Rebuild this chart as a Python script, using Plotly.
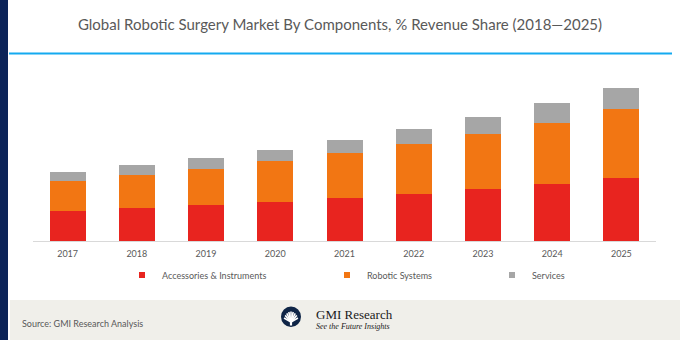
import math
import plotly.graph_objects as go

# ---- data -------------------------------------------------------------
years = ["2017", "2018", "2019", "2020", "2021", "2022", "2023", "2024", "2025"]
accessories = [3.00, 3.30, 3.60, 3.93, 4.30, 4.70, 5.23, 5.70, 6.27]
robotic_systems = [3.03, 3.30, 3.63, 4.04, 4.50, 5.03, 5.50, 6.13, 6.93]
services = [0.87, 1.00, 1.10, 1.13, 1.33, 1.50, 1.70, 1.94, 2.13]

series_names = ["Accessories & Instruments", "Robotic Systems", "Services"]
series_colors = ["#e8241f", "#f27613", "#a6a6a6"]

# ---- geometry -----------------------------------------------------------
W, H = 680, 340
ML, MR, MT, MB = 33, 24, 60, 99
PW, PH = W - ML - MR, H - MT - MB
TEXT = "#595959"
FONT = "Lato"


def px_x(px):
    return (px - ML) / PW


def px_y(py):
    return (H - MB - py) / PH


fig = go.Figure()

# stacked bars (legend shown through small square proxies below)
for name, vals, col in zip(series_names, [accessories, robotic_systems, services], series_colors):
    fig.add_trace(go.Bar(
        x=years, y=vals, name=name, marker=dict(color=col, line=dict(width=0)),
        legendgroup=name, showlegend=False,
    ))

legend_ids = ["legend", "legend2", "legend3"]
legend_text_x = [162, 367, 532]
for name, col, lid in zip(series_names, series_colors, legend_ids):
    fig.add_trace(go.Scatter(
        x=[None], y=[None], mode="markers", name=name, legendgroup=name,
        marker=dict(symbol="square", size=6, color=col), legend=lid,
    ))

legend_layouts = {}
for lid, tx in zip(legend_ids, legend_text_x):
    legend_layouts[lid] = dict(
        x=px_x(tx - 40), xanchor="left", y=px_y(275), yanchor="middle",
        orientation="h", bgcolor="rgba(0,0,0,0)",
        font=dict(family=FONT, size=9, color=TEXT),
        itemclick=False, itemdoubleclick=False,
    )

shapes = [
    # navy strip on the left edge
    dict(type="rect", xref="paper", yref="paper", x0=px_x(0), x1=px_x(8),
         y0=px_y(H), y1=px_y(0), fillcolor="#0c2459", line=dict(width=0), layer="below"),
    # footer band
    dict(type="rect", xref="paper", yref="paper", x0=px_x(10), x1=px_x(W),
         y0=px_y(H), y1=px_y(300), fillcolor="#f0efea", line=dict(width=0), layer="below"),
    # rule under the title
    dict(type="line", xref="paper", yref="paper", x0=px_x(9), x1=px_x(672),
         y0=px_y(53.5), y1=px_y(53.5), line=dict(color="#14aaf0", width=2)),
    # logo disc
    dict(type="circle", xref="paper", yref="paper", x0=px_x(281), x1=px_x(301),
         y0=px_y(327), y1=px_y(306.5), fillcolor="#0f2547", line=dict(width=0)),
]

# fan rays inside the logo disc
cx, cy = 291, 322
for k in range(9):
    ang = math.radians(22 + k * 17)
    shapes.append(dict(
        type="line", xref="paper", yref="paper",
        x0=px_x(cx), y0=px_y(cy),
        x1=px_x(cx + 7.5 * math.cos(ang)), y1=px_y(cy - 10.5 * math.sin(ang)),
        line=dict(color="white", width=1.6),
    ))
shapes.append(dict(type="line", xref="paper", yref="paper",
                   x0=px_x(cx), x1=px_x(cx), y0=px_y(cy), y1=px_y(325.5),
                   line=dict(color="white", width=2.2)))

annotations = [
    dict(text="Source: GMI Research Analysis", xref="paper", yref="paper",
         x=px_x(20), y=px_y(323), xanchor="left", yanchor="middle", showarrow=False,
         font=dict(family=FONT, size=9, color=TEXT)),
    dict(text="GMI Research", xref="paper", yref="paper",
         x=px_x(314), y=px_y(314.5), xanchor="left", yanchor="middle", showarrow=False,
         font=dict(family="Liberation Serif", size=13, color="#1a1a1a")),
    dict(text="<i>See the Future Insights</i>", xref="paper", yref="paper",
         x=px_x(314), y=px_y(326.5), xanchor="left", yanchor="middle", showarrow=False,
         font=dict(family="Liberation Serif", size=8, color="#1a1a1a")),
]

fig.update_layout(
    width=W, height=H,
    margin=dict(l=ML, r=MR, t=MT, b=MB, pad=0),
    paper_bgcolor="white", plot_bgcolor="white",
    barmode="stack", bargap=0.48,
    title=dict(
        text="Global Robotic Surgery Market By Components, % Revenue Share (2018\u20142025)",
        x=0.5, xref="container", xanchor="center",
        y=1 - 25 / H, yref="container", yanchor="middle",
        font=dict(family=FONT, size=15, color=TEXT),
    ),
    xaxis=dict(
        showline=True, linecolor="#d9d9d9", linewidth=1, ticks="",
        showgrid=False, zeroline=False, ticklabelstandoff=4,
        tickfont=dict(family=FONT, size=9, color=TEXT),
    ),
    yaxis=dict(range=[0, PH / 10], visible=False, showgrid=False, zeroline=False),
    shapes=shapes,
    annotations=annotations,
    showlegend=True,
    **legend_layouts,
)

fig.write_html("out.html")
